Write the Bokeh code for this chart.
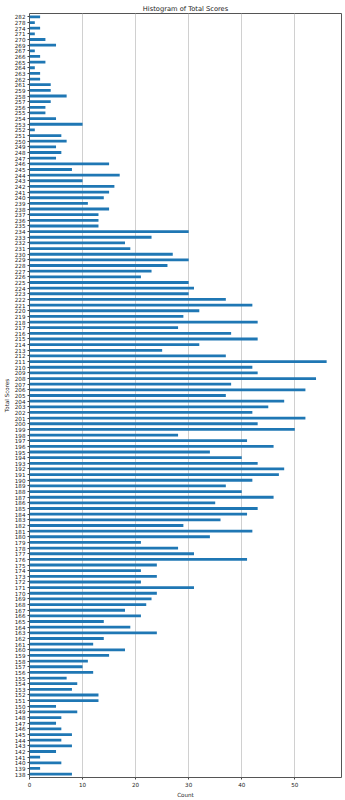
from bokeh.plotting import figure
from bokeh.models import ColumnDataSource, FactorRange, Range1d
from bokeh.embed import file_html
from bokeh.resources import INLINE

scores = [282, 278, 274, 271, 270, 269, 267, 266, 265, 264, 263, 262, 261, 259, 258,
          257, 256, 255, 254, 253, 252, 251, 250, 249, 248, 247, 246, 245, 244, 243,
          242, 241, 240, 239, 238, 237, 236, 235, 234, 233, 232, 231, 230, 229, 228,
          227, 226, 225, 224, 223, 222, 221, 220, 219, 218, 217, 216, 215, 214, 213,
          212, 211, 210, 209, 208, 207, 206, 205, 204, 203, 202, 201, 200, 199, 198,
          197, 196, 195, 194, 193, 192, 191, 190, 189, 188, 187, 186, 185, 184, 183,
          182, 181, 180, 179, 178, 177, 176, 175, 174, 173, 172, 171, 170, 169, 168,
          167, 166, 165, 164, 163, 162, 161, 160, 159, 158, 157, 156, 155, 154, 153,
          152, 151, 150, 149, 148, 147, 146, 145, 144, 143, 142, 141, 140, 139, 138]
counts = [2, 1, 2, 1, 3, 5, 1, 2, 3, 1, 2, 2, 4, 4, 7,
          4, 3, 3, 5, 10, 1, 6, 7, 5, 6, 5, 15, 8, 17, 10,
          16, 15, 14, 11, 15, 13, 13, 13, 30, 23, 18, 19, 27, 30, 26,
          23, 21, 30, 31, 30, 37, 42, 32, 29, 43, 28, 38, 43, 32, 25,
          37, 56, 42, 43, 54, 38, 52, 37, 48, 45, 42, 52, 43, 50, 28,
          41, 46, 34, 40, 43, 48, 47, 42, 37, 40, 46, 35, 43, 41, 36,
          29, 42, 34, 21, 28, 31, 41, 24, 21, 24, 21, 31, 24, 23, 22,
          18, 21, 14, 19, 24, 14, 12, 18, 15, 11, 10, 12, 7, 9, 8,
          13, 13, 5, 9, 6, 5, 6, 8, 6, 8, 5, 2, 6, 2, 8]
x_ticks = [0, 10, 20, 30, 40, 50]

factors = [str(s) for s in reversed(scores)]
vals = list(reversed(counts))
source = ColumnDataSource(data=dict(score=factors, count=vals))

p = figure(width=345, height=800, output_backend="svg", toolbar_location=None,
           y_range=FactorRange(factors=factors, range_padding=0.1, range_padding_units="absolute"),
           x_range=Range1d(0, max(counts) * 1.05),
           title="Histogram of Total Scores",
           min_border_left=27, min_border_right=4, min_border_top=13, min_border_bottom=21)

p.hbar(y="score", right="count", left=0, height=0.5, source=source,
       color="#1f77b4", line_color=None)

p.title.align = "center"
p.title.text_font = "DejaVu Sans"
p.title.text_font_size = "6.7px"
p.title.text_font_style = "normal"
p.title.text_color = "#222222"
p.title.standoff = 2

p.xaxis.ticker = x_ticks
p.xaxis.axis_label = "Count"
p.yaxis.axis_label = "Total Scores"
for ax in (p.xaxis, p.yaxis):
    ax.axis_label_text_font = "DejaVu Sans"
    ax.axis_label_text_font_size = "5.6px"
    ax.axis_label_text_font_style = "normal"
    ax.axis_label_text_color = "#222222"
    ax.major_label_text_font = "DejaVu Sans"
    ax.major_label_text_font_size = "5.6px"
    ax.major_label_text_color = "#222222"
    ax.major_tick_out = 2
    ax.major_tick_in = 0
    ax.minor_tick_out = 0
    ax.minor_tick_in = 0
    ax.major_label_standoff = 2
    ax.axis_label_standoff = 2
    ax.axis_line_color = None
    ax.major_tick_line_color = "#444444"

p.outline_line_color = "#555555"
p.outline_line_width = 1
p.xgrid.grid_line_color = "#d0d0d0"
p.xgrid.grid_line_width = 1
p.ygrid.grid_line_color = None
p.background_fill_color = "white"
p.border_fill_color = "white"

open("out.html", "w").write(file_html(p, INLINE))
